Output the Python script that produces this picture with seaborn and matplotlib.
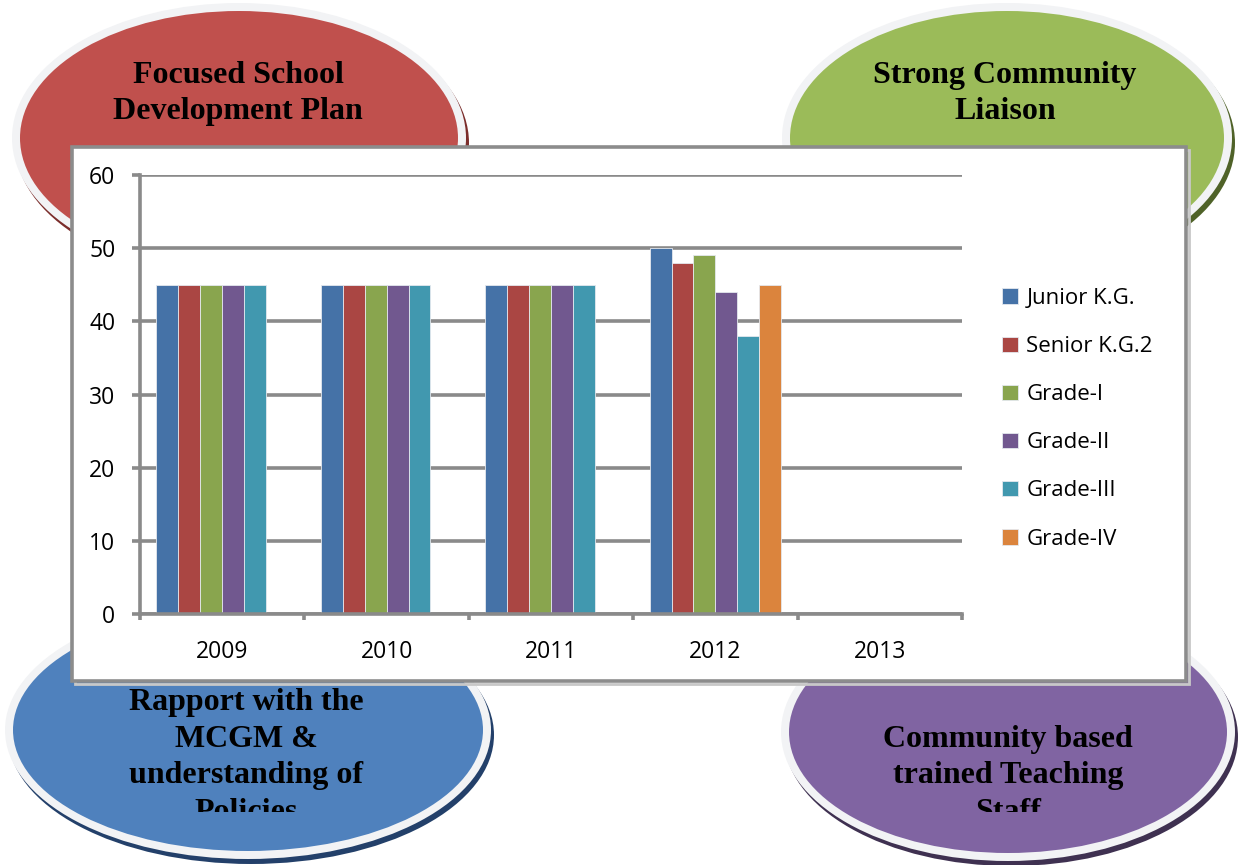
import matplotlib
matplotlib.use("Agg")
import matplotlib.pyplot as plt
from matplotlib.patches import Ellipse, Rectangle
from matplotlib.transforms import Bbox, TransformedBbox
import pandas as pd
import seaborn as sns

# ---------------- data ----------------
years = ["2009", "2010", "2011", "2012", "2013"]
series = ["Junior K.G.", "Senior K.G.2", "Grade-I", "Grade-II", "Grade-III", "Grade-IV"]
junior_kg = [45, 45, 45, 50, None]
senior_kg2 = [45, 45, 45, 48, None]
grade_i = [45, 45, 45, 49, None]
grade_ii = [45, 45, 45, 44, None]
grade_iii = [45, 45, 45, 38, None]
grade_iv = [None, None, None, 45, None]
y_ticks = [0, 10, 20, 30, 40, 50, 60]
bar_colors = ["#4572A7", "#AA4643", "#89A54E", "#71588F", "#4198AF", "#DB843D"]

bubble_red_text = ["Focused School", "Development Plan"]
bubble_green_text = ["Strong Community", "Liaison"]
bubble_blue_text = ["Rapport with the", "MCGM &", "understanding of", "Policies"]
bubble_purple_text = ["Community based", "trained Teaching", "Staff"]

values = [junior_kg, senior_kg2, grade_i, grade_ii, grade_iii, grade_iv]
rows = []
for name, vals in zip(series, values):
    for yr, v in zip(years, vals):
        if v is not None:
            rows.append({"year": yr, "series": name, "value": v})
df = pd.DataFrame(rows)

# ---------------- style ----------------
sns.set_style("white")
plt.rcParams["font.family"] = ["Open Sans", "DejaVu Sans"]

W, H = 1239, 865
fig = plt.figure(figsize=(W / 100, H / 100), dpi=100)

bg = fig.add_axes([0, 0, 1, 1])
bg.set_xlim(0, W)
bg.set_ylim(H, 0)
bg.axis("off")

rim = "#F2F3F5"
bubbles = [
    (239, 138, 227, 135, "#C0504D", "#7B2D2B"),
    (1007, 138, 225, 135, "#9BBB59", "#4F6228"),
    (248, 730, 243, 129, "#4F81BD", "#23406A"),
    (1008, 732, 227, 129, "#8064A2", "#3F3151"),
]
for cx, cy, a, b, fill, shade in bubbles:
    bg.add_patch(Ellipse((cx + 3, cy + 5), 2 * a, 2 * b, facecolor=shade, edgecolor="none", zorder=1))
    bg.add_patch(Ellipse((cx, cy), 2 * a, 2 * b, facecolor=rim, edgecolor="none", zorder=2))
    bg.add_patch(Ellipse((cx, cy), 2 * (a - 8), 2 * (b - 8), facecolor=fill, edgecolor="none", zorder=3))

# chart box
bg.add_patch(Rectangle((75, 150), 1114, 534, facecolor="none", edgecolor="#C8C8C8", lw=2, zorder=4))
bg.add_patch(Rectangle((72, 147), 1114, 534, facecolor="white", edgecolor="#8C8C8C", lw=2.6, zorder=5))

clip_box = TransformedBbox(Bbox.from_extents(0, 0, W, 812), bg.transData)

def bubble_lines(lines, cx, baselines):
    for txt, yb in zip(lines, baselines):
        t = bg.text(cx, yb, txt, ha="center", va="baseline", fontsize=23,
                    fontweight="bold", family=["Liberation Serif", "DejaVu Serif"],
                    color="black", zorder=6)
        t.set_clip_box(clip_box)
        t.set_clip_on(True)

bubble_lines(bubble_red_text, 238, [83, 119])
bubble_lines(bubble_green_text, 1005, [83, 119])
bubble_lines(bubble_blue_text, 246, [710, 747, 783, 820])
bubble_lines(bubble_purple_text, 1008, [747, 783, 820])

# ---------------- bar chart ----------------
x0, x1, ytop, ybot = 140, 962, 175, 614
ax = fig.add_axes([x0 / W, (H - ybot) / H, (x1 - x0) / W, (ybot - ytop) / H])
ax.set_zorder(10)
ax.patch.set_alpha(0)

sns.barplot(data=df, x="year", y="value", hue="series", order=years, hue_order=series,
            palette=bar_colors, saturation=1, width=0.8, errorbar=None,
            edgecolor="#E4E8EE", linewidth=0.6, ax=ax)

gray = "#8A8A8A"
ax.set_xlim(-0.5, 4.5)
ax.set_ylim(0, 60)
ax.set_yticks(y_ticks)
ax.set_axisbelow(True)
ax.yaxis.grid(True, color=gray, linewidth=2.6)
ax.xaxis.grid(False)
for s in ["top", "right"]:
    ax.spines[s].set_visible(False)
for s in ["left", "bottom"]:
    ax.spines[s].set_color(gray)
    ax.spines[s].set_linewidth(2.6)
ax.set_xlabel("")
ax.set_ylabel("")
ax.set_xticks([-0.5, 0.5, 1.5, 2.5, 3.5, 4.5], minor=True)
ax.tick_params(axis="y", which="major", length=5.8, width=2.6, color=gray, pad=12,
               labelsize=16.5, left=True, labelcolor="black")
ax.tick_params(axis="x", which="major", length=0, pad=19, labelsize=16.5, labelcolor="black")
ax.tick_params(axis="x", which="minor", length=4.5, width=2.6, color=gray, bottom=True)

handles, labels = ax.get_legend_handles_labels()
if ax.get_legend() is not None:
    ax.get_legend().remove()
leg = fig.legend(handles, labels, loc="upper left", bbox_to_anchor=(1002 / W, 1 - 288 / H),
                 frameon=False, fontsize=16, handlelength=0.7, handleheight=0.7,
                 handletextpad=0.4, labelspacing=1.22, borderpad=0, borderaxespad=0,
                 labelcolor="black")
leg.set_zorder(20)

fig.savefig("out.png", dpi=100)
